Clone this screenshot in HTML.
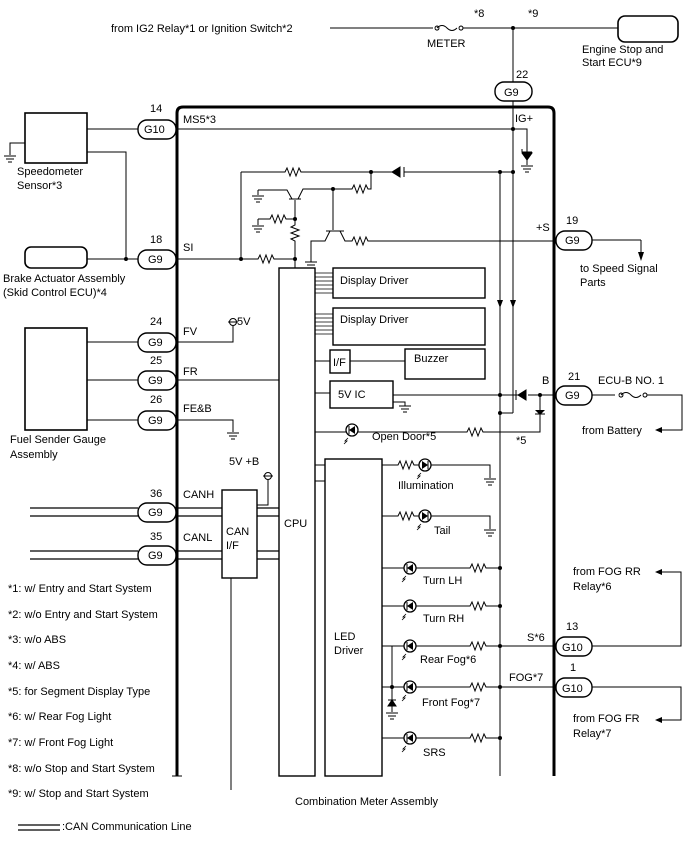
<!DOCTYPE html>
<html><head><meta charset="utf-8"><style>
html,body{margin:0;padding:0;background:#fff}
svg{display:block}
text{font-family:"Liberation Sans",Arial,sans-serif;font-size:11px;fill:#000}
</style></head><body>
<svg width="688" height="852" viewBox="0 0 688 852" xmlns="http://www.w3.org/2000/svg">
<defs>
<path id="rh" d="M0 0 l2 0 l2 -4 l3 8 l3 -8 l3 8 l3 -8 l2 4 l2 0" fill="none" stroke="#000" stroke-width="1"/>
<path id="rv" d="M0 0 l0 2 l-4 2 l8 3 l-8 3 l8 3 l-8 3 l4 2 l0 2" fill="none" stroke="#000" stroke-width="1"/>
<g id="gnd" stroke="#000" stroke-width="1"><line x1="-6" y1="0" x2="6" y2="0"/><line x1="-4" y1="3" x2="4" y2="3"/><line x1="-2" y1="6" x2="2" y2="6"/></g>
<g id="ledl"><circle r="6" fill="#fff" stroke="#000" stroke-width="1.3"/><path d="M-3 0 L3 -4 L3 4Z" fill="#000"/><line x1="-3" y1="-4" x2="-3" y2="4" stroke="#000"/><path d="M-4 8 l-3 3 l2 0 l-3 3" fill="none" stroke="#000" stroke-width=".8"/></g>
<g id="ledr"><circle r="6" fill="#fff" stroke="#000" stroke-width="1.3"/><path d="M3 0 L-3 -4 L-3 4Z" fill="#000"/><line x1="3" y1="-4" x2="3" y2="4" stroke="#000"/><path d="M-4 8 l-3 3 l2 0 l-3 3" fill="none" stroke="#000" stroke-width=".8"/></g>
<circle id="dot" r="2" fill="#000"/>
</defs>
<g fill="none" stroke="#000" stroke-width="1">
<!-- top supply -->
<line x1="330" y1="28" x2="433" y2="28"/>
<path d="M433 28 m2 0 a2 2 0 1 1 0 .1 M437 28 q5 -5 10 0 q5 5 10 0 M459 28 a2 2 0 1 1 0 .1"/>
<line x1="463" y1="28" x2="618" y2="28"/>
<rect x="618" y="16" width="60" height="26" rx="7" stroke-width="1.6"/>
<line x1="513" y1="28" x2="513" y2="84"/>
<!-- main box -->
<path d="M177 776 L177 113 Q177 107 183 107 L548 107 Q554 107 554 113 L554 776" stroke-width="3"/>
<line x1="172" y1="776" x2="182" y2="776" stroke-width="1"/>
<!-- left components -->
<rect x="25" y="113" width="62" height="50" stroke-width="1.6"/>
<path d="M25 143 H10 V155"/>
<line x1="87" y1="129" x2="138" y2="129"/>
<path d="M87 152 H126 V259"/>
<rect x="25" y="247" width="62" height="21" rx="6" stroke-width="1.6"/>
<line x1="87" y1="259" x2="138" y2="259"/>
<rect x="25" y="328" width="62" height="102" stroke-width="1.6"/>
<line x1="87" y1="342" x2="138" y2="342"/>
<line x1="87" y1="380" x2="138" y2="380"/>
<line x1="87" y1="420" x2="138" y2="420"/>
<!-- MS5 IG+ -->
<line x1="177" y1="129" x2="513" y2="129"/>
<path d="M513 129 H527 V165"/>
<line x1="513" y1="100" x2="513" y2="413"/>
<line x1="500" y1="172" x2="500" y2="776"/>
<path d="M513 413 V413 H500"/>
<line x1="241" y1="172" x2="283" y2="172"/>
<line x1="303" y1="172" x2="392" y2="172"/>
<line x1="404" y1="172" x2="513" y2="172"/>
<line x1="241" y1="172" x2="241" y2="259"/>
<line x1="177" y1="259" x2="256" y2="259"/>
<line x1="276" y1="259" x2="295" y2="259"/>
<line x1="295" y1="200" x2="295" y2="223"/>
<line x1="295" y1="243" x2="295" y2="268"/>
<line x1="258" y1="219" x2="268" y2="219"/>
<line x1="288" y1="219" x2="295" y2="219"/>
<line x1="258" y1="219" x2="258" y2="225"/>
<!-- transistor1 -->
<path d="M258 190 V195 M258 190 H287 L292 199 M289 199 H301 M298 199 L303 189 H333"/>
<line x1="333" y1="189" x2="333" y2="230"/>
<line x1="333" y1="189" x2="350" y2="189"/>
<path d="M370 189 H371 V172"/>
<!-- transistor2 -->
<path d="M311 262 V241 H325 L330 231 M326 231 H344 M340 231 L345 241 H350 M370 241 H554"/>
<!-- +S -->
<line x1="592" y1="240" x2="641" y2="240"/>
<line x1="641" y1="240" x2="641" y2="252"/>
<!-- CPU & drivers -->
<rect x="279" y="268" width="36" height="508" stroke-width="1.4"/>
<rect x="333" y="268" width="152" height="30" stroke-width="1.4"/>
<rect x="333" y="308" width="152" height="37" stroke-width="1.4"/>
<rect x="330" y="350" width="20" height="23" stroke-width="1.4"/>
<rect x="405" y="349" width="80" height="30" stroke-width="1.4"/>
<line x1="350" y1="361" x2="405" y2="361"/>
<line x1="315" y1="361" x2="330" y2="361"/>
<rect x="330" y="381" width="63" height="27" stroke-width="1.4"/>
<line x1="315" y1="393" x2="330" y2="393"/>
<path d="M393 402 H405 V406"/>
<line x1="177" y1="380" x2="279" y2="380"/>
<path d="M177 342 H233 V326"/>
<path d="M177 420 H233 V432"/>
<!-- B line -->
<line x1="393" y1="395" x2="518" y2="395"/>
<line x1="528" y1="395" x2="556" y2="395"/>
<path d="M540 395 V432 H485 M465 432 H358 M346 432 H315"/>
<line x1="592" y1="395" x2="615" y2="395"/>
<path d="M617 395 m2 0 a2 2 0 1 1 0 .1 M621 395 q5 -5 10 0 q5 5 10 0 M643 395 a2 2 0 1 1 0 .1"/>
<path d="M647 395 H682 V430 H662"/>
<!-- LED driver -->
<rect x="325" y="459" width="57" height="317" stroke-width="1.4"/>
<line x1="315" y1="465" x2="325" y2="465"/>
<line x1="315" y1="481" x2="325" y2="481"/>
<path d="M382 465 H396 M416 465 H420 M431 465 H490 V478"/>
<path d="M382 516 H396 M416 516 H420 M431 516 H490 V529"/>
<path d="M382 568 H404 M416 568 H468 M488 568 H500"/>
<path d="M382 606 H404 M416 606 H468 M488 606 H500"/>
<path d="M382 646 H404 M416 646 H468 M488 646 H556"/>
<path d="M382 687 H404 M416 687 H468 M488 687 H556"/>
<path d="M382 738 H404 M416 738 H468 M488 738 H500"/>
<path d="M392 646 V700 M392 706 V712"/>
<path d="M592 646 H681 V572 H662"/>
<path d="M592 687 H681 V720 H662"/>
<!-- CAN -->
<rect x="222" y="490" width="35" height="88" stroke-width="1.4"/>
<path d="M268 480 V505 H257"/>
<line x1="231" y1="578" x2="231" y2="790"/>
</g>
<g stroke="#000" stroke-width="1.2" fill="none">
<path d="M30 508 H138 M30 516 H138 M176 508 H222 M176 516 H222 M257 508 H279 M257 516 H279"/>
<path d="M30 551 H138 M30 559 H138 M176 551 H222 M176 559 H222 M257 551 H279 M257 559 H279"/>
<path d="M18 825 H60 M18 830 H60"/>
</g>
<!-- connectors -->
<g fill="#fff" stroke="#000" stroke-width="1.4">
<rect x="495" y="82" width="37" height="19" rx="9"/>
<rect x="138" y="120" width="38" height="19" rx="9"/>
<rect x="138" y="250" width="38" height="19" rx="9"/>
<rect x="138" y="333" width="38" height="19" rx="9"/>
<rect x="138" y="371" width="38" height="19" rx="9"/>
<rect x="138" y="411" width="38" height="19" rx="9"/>
<rect x="138" y="503" width="38" height="19" rx="9"/>
<rect x="138" y="546" width="38" height="19" rx="9"/>
<rect x="556" y="231" width="36" height="19" rx="9"/>
<rect x="556" y="386" width="36" height="19" rx="9"/>
<rect x="556" y="637" width="36" height="19" rx="9"/>
<rect x="556" y="678" width="36" height="19" rx="9"/>
</g>
<!-- resistors -->
<use href="#rh" x="283" y="172"/><use href="#rh" x="256" y="259"/><use href="#rh" x="268" y="219"/>
<use href="#rv" x="295" y="223"/><use href="#rh" x="350" y="189"/><use href="#rh" x="350" y="241"/>
<use href="#rh" x="465" y="432"/><use href="#rh" x="396" y="465"/><use href="#rh" x="396" y="516"/>
<use href="#rh" x="468" y="568"/><use href="#rh" x="468" y="606"/><use href="#rh" x="468" y="646"/>
<use href="#rh" x="468" y="687"/><use href="#rh" x="468" y="738"/>
<!-- grounds -->
<use href="#gnd" x="10" y="156"/><use href="#gnd" x="527" y="166"/><use href="#gnd" x="258" y="196"/>
<use href="#gnd" x="258" y="226"/><use href="#gnd" x="311" y="262"/><use href="#gnd" x="405" y="406"/>
<use href="#gnd" x="233" y="433"/><use href="#gnd" x="490" y="479"/><use href="#gnd" x="490" y="530"/>
<use href="#gnd" x="392" y="713"/>
<!-- diodes -->
<path d="M392 172 L400 167 L400 177Z M404 167 V177" fill="#000" stroke="#000"/>
<path d="M527 160 L522 153 L532 153Z M522 149 V152" fill="#000" stroke="#000" transform="translate(0,0)"/>
<path d="M522 152 H532" stroke="#000"/>
<path d="M518 395 L526 390 L526 400Z M516 390 V400" fill="#000" stroke="#000"/>
<path d="M540 405 L535 410 L545 410Z" fill="#000" transform="rotate(180 540 410)"/>
<path d="M535 414 H545" stroke="#000"/>
<path d="M392 700 L388 706 L396 706Z M388 700 H396" fill="#000" stroke="#000"/>
<!-- arrows on vertical lines -->
<path d="M497 300 L503 300 L500 308Z M510 300 L516 300 L513 308Z" fill="#000"/>
<path d="M638 252 L644 252 L641 261Z" fill="#000"/>
<path d="M662 427 L662 433 L655 430Z M662 569 L662 575 L655 572Z M662 717 L662 723 L655 720Z" fill="#000"/>
<!-- display driver buses -->
<g stroke="#000" stroke-width=".8">
<path d="M315 273 H333 M315 277 H333 M315 281 H333 M315 285 H333 M315 289 H333 M315 293 H333"/>
<path d="M315 314 H333 M315 318 H333 M315 322 H333 M315 326 H333 M315 330 H333 M315 334 H333"/>
</g>
<!-- 5V terminals -->
<g fill="none" stroke="#000"><circle cx="233" cy="322" r="3.5"/><line x1="228" y1="322" x2="238" y2="322"/><circle cx="268" cy="476" r="3.5"/><line x1="263" y1="476" x2="273" y2="476"/></g>
<!-- LEDs -->
<use href="#ledl" x="352" y="430"/><use href="#ledr" x="425" y="465"/><use href="#ledr" x="425" y="516"/>
<use href="#ledl" x="410" y="568"/><use href="#ledl" x="410" y="606"/><use href="#ledl" x="410" y="646"/>
<use href="#ledl" x="410" y="687"/><use href="#ledl" x="410" y="738"/>
<!-- dots -->
<use href="#dot" x="513" y="28"/><use href="#dot" x="513" y="129"/><use href="#dot" x="371" y="172"/>
<use href="#dot" x="500" y="172"/><use href="#dot" x="513" y="172"/><use href="#dot" x="333" y="189"/>
<use href="#dot" x="295" y="219"/><use href="#dot" x="241" y="259"/><use href="#dot" x="295" y="259"/>
<use href="#dot" x="126" y="259"/><use href="#dot" x="500" y="395"/><use href="#dot" x="500" y="413"/>
<use href="#dot" x="540" y="395"/><use href="#dot" x="500" y="568"/><use href="#dot" x="500" y="606"/>
<use href="#dot" x="500" y="646"/><use href="#dot" x="500" y="687"/><use href="#dot" x="500" y="738"/>
<use href="#dot" x="392" y="687"/>
<!-- text -->
<text x="111" y="32">from IG2 Relay*1 or Ignition Switch*2</text>
<text x="427" y="47">METER</text><text x="474" y="17">*8</text><text x="528" y="17">*9</text>
<text x="582" y="53">Engine Stop and</text><text x="582" y="66">Start ECU*9</text>
<text x="516" y="78">22</text><text x="504" y="96">G9</text>
<text x="150" y="112">14</text><text x="144" y="133">G10</text><text x="183" y="123">MS5*3</text><text x="515" y="122">IG+</text>
<text x="17" y="175">Speedometer</text><text x="17" y="189">Sensor*3</text>
<text x="150" y="243">18</text><text x="148" y="263">G9</text><text x="183" y="251">SI</text>
<text x="3" y="282">Brake Actuator Assembly</text><text x="3" y="296">(Skid Control ECU)*4</text>
<text x="536" y="231">+S</text><text x="566" y="224">19</text><text x="565" y="244">G9</text>
<text x="580" y="272">to Speed Signal</text><text x="580" y="286">Parts</text>
<text x="340" y="284">Display Driver</text><text x="340" y="323">Display Driver</text>
<text x="333" y="366">I/F</text><text x="414" y="362">Buzzer</text><text x="338" y="398">5V IC</text>
<text x="150" y="325">24</text><text x="148" y="346">G9</text><text x="183" y="335">FV</text><text x="237" y="325">5V</text>
<text x="150" y="364">25</text><text x="148" y="384">G9</text><text x="183" y="375">FR</text>
<text x="150" y="403">26</text><text x="148" y="424">G9</text><text x="183" y="412">FE&amp;B</text>
<text x="10" y="443">Fuel Sender Gauge</text><text x="10" y="458">Assembly</text>
<text x="542" y="384">B</text><text x="568" y="380">21</text><text x="565" y="399">G9</text>
<text x="598" y="384">ECU-B NO. 1</text><text x="582" y="434">from Battery</text>
<text x="372" y="440">Open Door*5</text><text x="516" y="444">*5</text>
<text x="398" y="489">Illumination</text><text x="434" y="534">Tail</text>
<text x="229" y="465">5V +B</text>
<text x="150" y="497">36</text><text x="148" y="516">G9</text><text x="183" y="498">CANH</text>
<text x="150" y="540">35</text><text x="148" y="559">G9</text><text x="183" y="541">CANL</text>
<text x="226" y="535">CAN</text><text x="226" y="549">I/F</text><text x="284" y="527">CPU</text>
<text x="423" y="584">Turn LH</text><text x="423" y="622">Turn RH</text>
<text x="420" y="663">Rear Fog*6</text><text x="422" y="706">Front Fog*7</text><text x="423" y="756">SRS</text>
<text x="334" y="640">LED</text><text x="334" y="654">Driver</text>
<text x="573" y="575">from FOG RR</text><text x="573" y="590">Relay*6</text>
<text x="527" y="641">S*6</text><text x="566" y="630">13</text><text x="562" y="651">G10</text>
<text x="509" y="681">FOG*7</text><text x="570" y="671">1</text><text x="562" y="692">G10</text>
<text x="573" y="722">from FOG FR</text><text x="573" y="737">Relay*7</text>
<text x="8" y="592">*1: w/ Entry and Start System</text>
<text x="8" y="618">*2: w/o Entry and Start System</text>
<text x="8" y="643">*3: w/o ABS</text>
<text x="8" y="669">*4: w/ ABS</text>
<text x="8" y="695">*5: for Segment Display Type</text>
<text x="8" y="720">*6: w/ Rear Fog Light</text>
<text x="8" y="746">*7: w/ Front Fog Light</text>
<text x="8" y="772">*8: w/o Stop and Start System</text>
<text x="8" y="797">*9: w/ Stop and Start System</text>
<text x="295" y="805">Combination Meter Assembly</text>
<text x="62" y="830">:CAN Communication Line</text>
</svg>
</body></html>
